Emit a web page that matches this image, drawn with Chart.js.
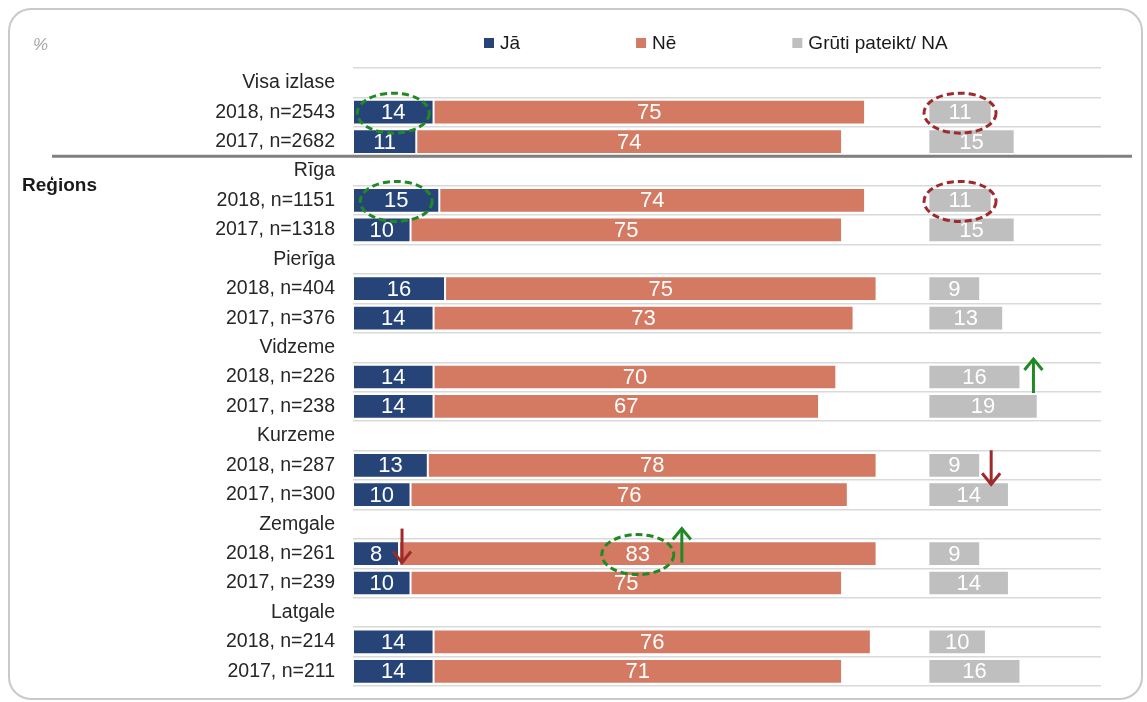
<!DOCTYPE html>
<html lang="lv">
<head>
  <meta charset="UTF-8" />
  <title>Jā / Nē pa reģioniem</title>
  <style>
    body {
      margin: 0;
      background: #fff;
    }
    canvas {
      display: block;
    }
  </style>
</head>
<body>
  <canvas id="chart" width="1147" height="702"></canvas>

  <script src="https://cdn.jsdelivr.net/npm/chart.js"></script>
  <script>
    // dati no attēla
    const labels = [
      'Visa izlase', '2018, n=2543', '2017, n=2682',
      'Rīga', '2018, n=1151', '2017, n=1318',
      'Pierīga', '2018, n=404', '2017, n=376',
      'Vidzeme', '2018, n=226', '2017, n=238',
      'Kurzeme', '2018, n=287', '2017, n=300',
      'Zemgale', '2018, n=261', '2017, n=239',
      'Latgale', '2018, n=214', '2017, n=211'
    ];
    const ja    = [null, 14, 11, null, 15, 10, null, 16, 14, null, 14, 14, null, 13, 10, null, 8, 10, null, 14, 14];
    const ne    = [null, 75, 74, null, 74, 75, null, 75, 73, null, 70, 67, null, 78, 76, null, 83, 75, null, 76, 71];
    const gruti = [null, 11, 15, null, 11, 15, null, 9, 13, null, 16, 19, null, 9, 14, null, 9, 14, null, 10, 16];
    const seriesNames = ['Jā', 'Nē', 'Grūti pateikt/ NA'];
    const grutiStart = 100;   // pelēkie stabiņi sākas atsevišķi
    const xMax = 130;

    const colors = ['#264478', '#d47a62', '#bfbfbf'];
    const green = '#1f8a24';
    const red = '#9e2a2b';
    const font = '"Liberation Sans", Arial, sans-serif';

    // apļi un bultiņas (rinda, datu kopa)
    const rinki = [
      { row: 1, ds: 0, color: green },
      { row: 4, ds: 0, color: green },
      { row: 1, ds: 2, color: red },
      { row: 4, ds: 2, color: red },
      { row: 16, ds: 1, color: green }
    ];
    const bultas = [
      { row: 16, ds: 0, up: false, color: red, dx: 3, dy: -8 },
      { row: 16, ds: 1, up: true, color: green, dx: 44, dy: -8, fromCenter: true },
      { row: 10, ds: 2, up: true, color: green, dx: 13, dy: -1 },
      { row: 13, ds: 2, up: false, color: red, dx: 11, dy: 2 }
    ];

    function bulta(ctx, x, yTop, yBot, up, color) {
      ctx.save();
      ctx.strokeStyle = color;
      ctx.lineWidth = 3;
      ctx.beginPath();
      ctx.moveTo(x, yTop);
      ctx.lineTo(x, yBot);
      ctx.stroke();
      const tip = up ? yTop : yBot;
      const d = up ? 1 : -1;
      ctx.beginPath();
      ctx.moveTo(x - 9, tip + d * 11);
      ctx.lineTo(x, tip);
      ctx.lineTo(x + 9, tip + d * 11);
      ctx.stroke();
      ctx.restore();
    }

    const extras = {
      id: 'extras',
      beforeDraw(chart) {
        const ctx = chart.ctx;
        // rāmis ar noapaļotiem stūriem
        ctx.save();
        ctx.strokeStyle = '#c9c9c9';
        ctx.lineWidth = 2;
        const l = 9, t = 9, r = 1142, b = 699, rad = 22;
        ctx.beginPath();
        ctx.moveTo(l + rad, t);
        ctx.arcTo(r, t, r, b, rad);
        ctx.arcTo(r, b, l, b, rad);
        ctx.arcTo(l, b, l, t, rad);
        ctx.arcTo(l, t, r, t, rad);
        ctx.closePath();
        ctx.stroke();

        ctx.fillStyle = '#a6a6a6';
        ctx.font = 'italic 17px ' + font;
        ctx.textBaseline = 'middle';
        ctx.fillText('%', 33, 45);

        // leģenda
        ctx.font = '19px ' + font;
        let x = 484;
        seriesNames.forEach((name, i) => {
          ctx.fillStyle = colors[i];
          ctx.fillRect(x, 38, 10, 10);
          ctx.fillStyle = '#1a1a1a';
          ctx.fillText(name, x + 16, 44);
          x += 16 + ctx.measureText(name).width + 116;
        });
        ctx.restore();
      },
      afterDatasetsDraw(chart) {
        const ctx = chart.ctx;
        const y = chart.scales.y;
        const src = [ja, ne, gruti];
        ctx.save();

        // vērtības stabiņos
        ctx.font = '22px ' + font;
        ctx.fillStyle = '#fff';
        ctx.textAlign = 'center';
        ctx.textBaseline = 'middle';
        src.forEach((arr, di) => {
          chart.getDatasetMeta(di).data.forEach((el, i) => {
            if (arr[i] == null) return;
            const p = el.getCenterPoint();
            ctx.fillText(arr[i], p.x, p.y + 1);
          });
        });

        // atdalītājs starp "Visa izlase" un reģioniem
        const sepY = (y.getPixelForValue(2) + y.getPixelForValue(3)) / 2;
        ctx.strokeStyle = '#808080';
        ctx.lineWidth = 3;
        ctx.beginPath();
        ctx.moveTo(52, sepY);
        ctx.lineTo(1132, sepY);
        ctx.stroke();

        ctx.fillStyle = '#1a1a1a';
        ctx.font = 'bold 19px ' + font;
        ctx.textAlign = 'left';
        ctx.fillText('Reģions', 22, (y.getPixelForValue(3) + y.getPixelForValue(4)) / 2);

        // pārtrauktās elipses
        ctx.lineWidth = 3;
        ctx.setLineDash([7, 4]);
        rinki.forEach(r => {
          const p = chart.getDatasetMeta(r.ds).data[r.row].getCenterPoint();
          ctx.strokeStyle = r.color;
          ctx.beginPath();
          ctx.ellipse(p.x, p.y + 1, 36, 20, 0, 0, Math.PI * 2);
          ctx.stroke();
        });
        ctx.setLineDash([]);

        bultas.forEach(b => {
          const el = chart.getDatasetMeta(b.ds).data[b.row];
          const bx = (b.fromCenter ? el.getCenterPoint().x : el.x) + b.dx;
          const cy = el.y + b.dy;
          bulta(ctx, bx, cy - 17, cy + 17, b.up, b.color);
        });
        ctx.restore();
      }
    };

    new Chart(document.getElementById('chart'), {
      type: 'bar',
      data: {
        labels,
        datasets: [
          { label: seriesNames[0], data: ja, backgroundColor: colors[0], stack: 'a' },
          { label: seriesNames[1], data: ne, backgroundColor: colors[1], stack: 'a' },
          {
            label: seriesNames[2],
            data: gruti.map(v => v == null ? null : [grutiStart, grutiStart + v]),
            backgroundColor: colors[2],
            stack: 'b',
            grouped: false
          }
        ]
      },
      options: {
        indexAxis: 'y',
        responsive: false,
        animation: false,
        events: [],
        datasets: {
          bar: {
            categoryPercentage: 1,
            barPercentage: 0.84,
            borderColor: '#fff',
            borderWidth: 1,
            borderSkipped: false
          }
        },
        layout: { padding: { top: 68, right: 46, bottom: 16, left: 0 } },
        plugins: {
          legend: { display: false },
          tooltip: { enabled: false }
        },
        scales: {
          x: { display: false, stacked: true, min: 0, max: xMax },
          y: {
            grid: { offset: true, color: '#d9d9d9', lineWidth: 1.5, drawTicks: false },
            border: { display: false },
            ticks: {
              autoSkip: false,
              padding: 18,
              color: '#262626',
              font: { size: 19.5, family: font }
            },
            afterFit: s => {
              s.width = 353;
              s.paddingTop = 0;
              s.paddingBottom = 0;
            }
          }
        }
      },
      plugins: [extras]
    });
  </script>
</body>
</html>
